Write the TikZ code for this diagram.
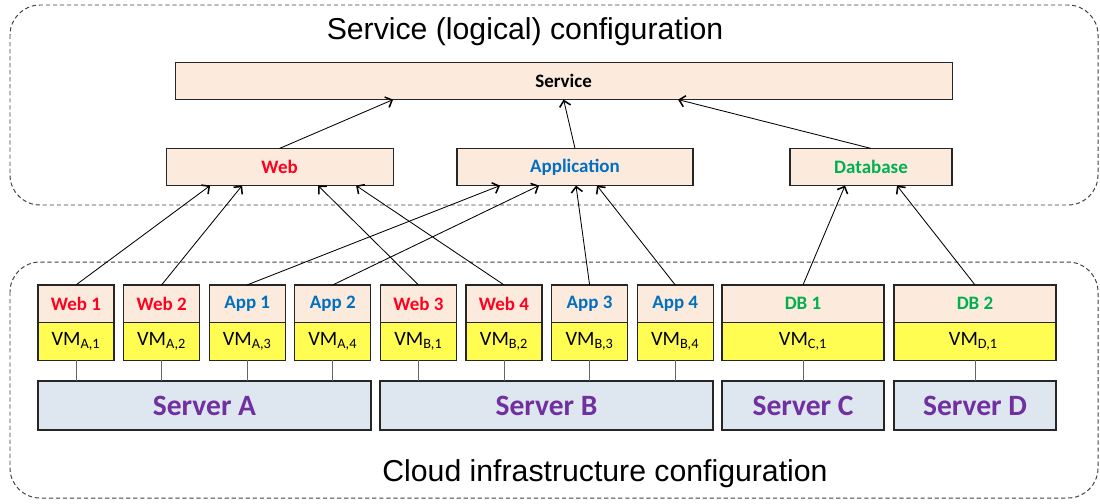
\documentclass[tikz,border=0pt]{standalone}
\usepackage{fontspec}
\setmainfont{Carlito}
\newfontfamily\headfont{Liberation Sans}
\usepackage{tikz}
\usetikzlibrary{positioning, arrows.meta, calc}

\definecolor{tierfill}{RGB}{252,234,220}
\definecolor{vmfill}{RGB}{255,253,82}
\definecolor{srvfill}{RGB}{222,230,240}
\definecolor{webred}{RGB}{255,0,30}
\definecolor{appblue}{RGB}{0,112,192}
\definecolor{dbgreen}{RGB}{0,176,80}
\definecolor{srvpurple}{RGB}{112,48,160}

\tikzset{
  zone/.style={draw=black!75, dash pattern=on 3pt off 2pt, line width=0.7pt, rounded corners=0.75cm},
  tier/.style={rectangle, draw=black!85, line width=0.85pt, fill=tierfill, inner sep=0pt, outer sep=0pt, minimum height=0.93cm, font=\fontsize{13.5}{16}\selectfont\bfseries},
  vmbox/.style={rectangle, draw=black!85, line width=0.85pt, fill=vmfill, inner sep=0pt, outer sep=0pt, minimum height=0.95cm, font=\fontsize{14.5}{17}\selectfont},
  server/.style={rectangle, draw=black!85, line width=0.85pt, fill=srvfill, inner sep=0pt, outer sep=0pt, minimum height=1.225cm, font=\fontsize{21}{25}\selectfont\bfseries, text=srvpurple},
  heading/.style={font=\headfont\fontsize{21.5}{26}\selectfont},
  arrow/.style={line width=0.6pt, -{Straight Barb[length=4pt,width=8pt,line width=1.1pt]}},
  vmlink/.style={draw=black!60, line width=0.5pt}
}

\begin{document}
\begin{tikzpicture}
    \useasboundingbox (0,0) rectangle (27.5,-12.575);

    % Zonas punteadas
    \draw[zone] (0.25,-0.125) rectangle (27.45,-5.125);
    \draw[zone] (0.25,-6.55) rectangle (27.45,-12.45);
    \node[heading] (logical) at (13.125,-0.8) {Service (logical) configuration};
    \node[heading] (infra) at (15.125,-11.85) {Cloud infrastructure configuration};

    % Capa logica
    \node[tier, minimum width=19.425cm] (service) at (14.09,-2.025) {Service};
    \node[tier, minimum width=5.675cm, text=webred] (web) at (6.99,-4.175) {Web};
    \node[tier, minimum width=5.9cm, text=appblue] (app) at (14.375,-4.175) {Application};
    \node[tier, minimum width=4.05cm, text=dbgreen] (db) at (21.775,-4.175) {Database};

    \draw[arrow] (web.north) -- ([xshift=-4.2625cm]service.south);
    \draw[arrow] (app.north) -- (service.south);
    \draw[arrow] (db.north) -- ([xshift=2.8625cm]service.south);

    % Servidores
    \node[server, minimum width=8.325cm] (srvA) at (5.1125,-10.1375) {Server A};
    \node[server, minimum width=8.325cm] (srvB) at (13.6625,-10.1375) {Server B};
    \node[server, minimum width=4.05cm] (srvC) at (20.075,-10.1375) {Server C};
    \node[server, minimum width=4.05cm] (srvD) at (24.375,-10.1375) {Server D};

    % Maquinas virtuales
    \foreach \x/\w/\tag/\txt/\col/\srv/\k in {
        1.9/1.9/web1/Web 1/webred/A/1, 4.04/1.9/web2/Web 2/webred/A/2,
        6.18/1.9/app1/App 1/appblue/A/3, 8.32/1.9/app2/App 2/appblue/A/4,
        10.46/1.9/web3/Web 3/webred/B/1, 12.6/1.9/web4/Web 4/webred/B/2,
        14.74/1.9/app3/App 3/appblue/B/3, 16.88/1.9/app4/App 4/appblue/B/4,
        20.075/4.05/db1/DB 1/dbgreen/C/1, 24.375/4.05/db2/DB 2/dbgreen/D/1
    } {
        \node[tier, minimum width=\w cm, text=\col] (\tag) at (\x,-7.5875) {\txt};
        \node[vmbox, minimum width=\w cm, below=0pt of \tag] (vm\tag) {VM\textsubscript{\srv,\k}};
        \draw[vmlink] (vm\tag.south) -- (vm\tag.south |- srv\srv.north);
    }

    % Flechas hacia la capa logica
    \foreach \from/\to/\dx in {
        web1/web/-1.7375, web2/web/-0.9375, web3/web/0.9625, web4/web/1.9125,
        app1/app/-1.875, app2/app/-0.9, app3/app/0.025, app4/app/0.55,
        db1/db/-0.65, db2/db/0.65
    } {
        \draw[arrow] (\from.north) -- ([xshift=\dx cm]\to.south);
    }

\end{tikzpicture}
\end{document}
